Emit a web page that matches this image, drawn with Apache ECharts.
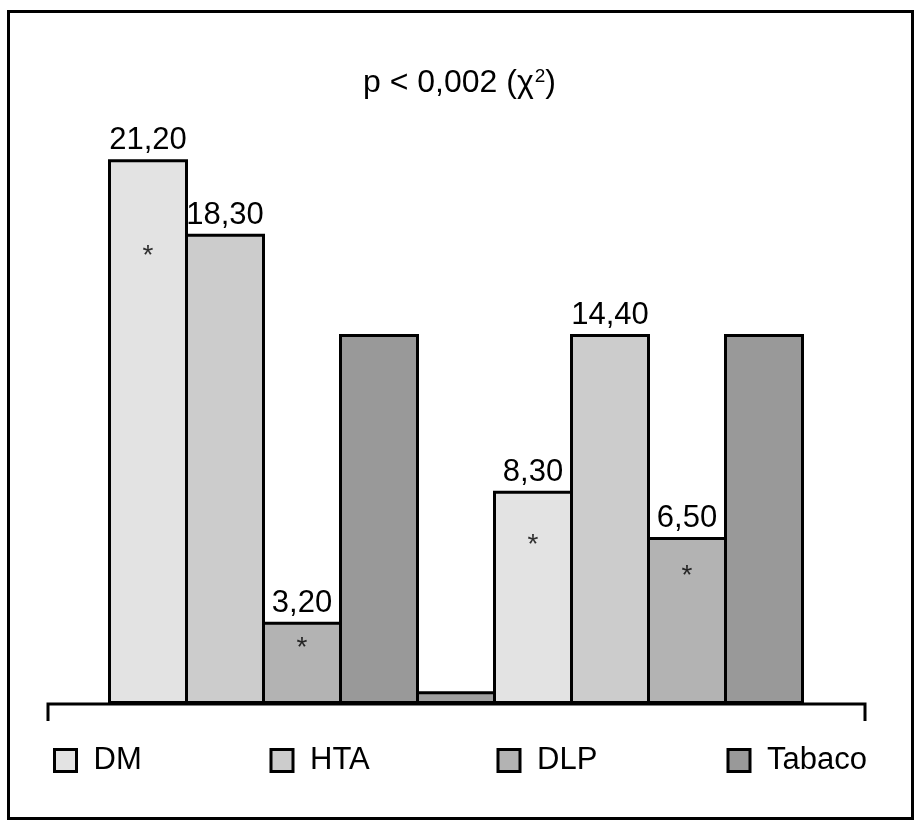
<!DOCTYPE html>
<html>
<head>
<meta charset="utf-8">
<script src="https://cdn.jsdelivr.net/npm/echarts@6/dist/echarts.min.js"></script>
<style>
html,body{margin:0;padding:0;background:#fff;}
#chart{width:919px;height:832px;}
</style>
</head>
<body>
<div id="chart"></div>
<script>
// ---- data ----
const categories = ['G1-DM','G1-HTA','G1-DLP','G1-Tabaco','G-sep','G2-DM','G2-HTA','G2-DLP','G2-Tabaco'];
const seriesNames = ['DM','HTA','DLP','Tabaco'];
const dmValues     = [21.2, null, null, null, null, 8.3, null, null, null];
const htaValues    = [null, 18.3, null, null, null, null, 14.4, null, null];
const dlpValues    = [null, null, 3.2, null, null, null, null, 6.5, null];
const tabacoValues = [null, null, null, 14.4, null, null, null, null, 14.4];
const sepValues    = [null, null, null, null, 0.5, null, null, null, null];
const asteriskCats   = [0, 2, 5, 7];
const asteriskValues = [17.7, 2.45, 6.45, 5.25];
const titleText = 'p < 0,002 (χ';

const FONT = '"Liberation Sans", Arial, Helvetica, sans-serif';
const colors = {DM:'#e3e3e3', HTA:'#cccccc', DLP:'#b3b3b3', Tabaco:'#999999', sep:'#a0a0a0'};
const fmt = p => (p.value == null ? '' : p.value.toFixed(2).replace('.', ','));

function barSeries(name, data, color, showLabel) {
  return {
    name: name, type: 'bar', stack: 'all', data: data, barWidth: 80,
    itemStyle: {color: color, borderColor: '#000', borderWidth: 3},
    label: {show: showLabel, position: 'top', distance: 3, formatter: fmt,
            color: '#000', fontFamily: FONT, fontSize: 31},
    emphasis: {disabled: true}, animation: false
  };
}

const legendLefts = [53, 269.5, 496.5, 726.5];
const legends = seriesNames.map((n, i) => ({
  data: [n], left: legendLefts[i], top: 745, padding: 0,
  icon: 'rect', itemWidth: 22, itemHeight: 22,
  itemStyle: {borderColor: '#000', borderWidth: 3},
  textStyle: {fontFamily: FONT, fontSize: 31, color: '#000', padding: [0,0,0,12]},
  selectedMode: false
}));

const chart = echarts.init(document.getElementById('chart'), null, {renderer: 'canvas'});
chart.setOption({
  backgroundColor: '#fff',
  animation: false,
  title: {
    text: '{a|' + titleText + '}{s|2}{a|)}',
    left: 'center', top: 62,
    textStyle: {fontWeight: 'normal', rich: {
      a: {fontFamily: FONT, fontSize: 32, fontWeight: 'normal', color: '#000'},
      s: {fontFamily: FONT, fontSize: 19, fontWeight: 'normal', color: '#000', verticalAlign: 'top', padding: [0,0,12,1]}
    }}
  },
  legend: legends,
  grid: {left: 109.5, right: 116.5, top: 61.5, bottom: 128},
  xAxis: {type: 'category', data: categories, axisLine: {show: false}, axisTick: {show: false},
          axisLabel: {show: false}, splitLine: {show: false}},
  yAxis: {type: 'value', min: 0, max: 25, show: false, splitLine: {show: false}},
  series: [
    barSeries('DM', dmValues, colors.DM, true),
    barSeries('HTA', htaValues, colors.HTA, true),
    barSeries('DLP', dlpValues, colors.DLP, true),
    barSeries('Tabaco', tabacoValues, colors.Tabaco, false),
    barSeries('sep', sepValues, colors.sep, false),
    {
      type: 'scatter', symbolSize: 0, silent: true,
      data: asteriskCats.map((c, i) => [c, asteriskValues[i]]),
      label: {show: true, position: 'inside', formatter: '*', offset: [0, 7],
              fontFamily: FONT, fontSize: 28, color: '#000'},
      z: 10
    }
  ],
  graphic: [
    {type: 'rect', shape: {x: 8.5, y: 11.5, width: 904, height: 807},
     style: {fill: null, stroke: '#000', lineWidth: 3}, silent: true},
    {type: 'polyline', shape: {points: [[48, 721], [48, 704], [865, 704], [865, 721]]},
     style: {fill: null, stroke: '#000', lineWidth: 3}, silent: true, z: 100}
  ]
});
</script>
</body>
</html>
